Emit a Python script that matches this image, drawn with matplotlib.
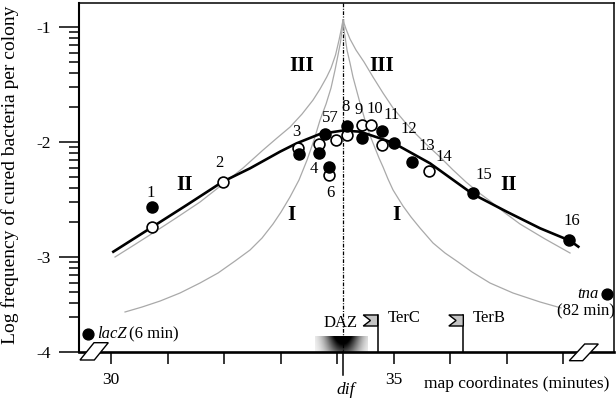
import numpy as np
import matplotlib
matplotlib.use("Agg")
import matplotlib.pyplot as plt
from matplotlib.patches import Polygon
import matplotlib.transforms as mtransforms

plt.rcParams['font.family'] = ['Liberation Serif', 'DejaVu Serif']

# map position (minutes) and log10 frequency of cured bacteria
filled_x = [30.72, 33.33, 33.67, 33.86, 33.785, 34.18, 34.445, 34.79, 35.01, 35.33, 36.40, 38.105]
filled_y = [-2.568, -2.104, -2.098, -2.215, -1.933, -1.861, -1.963, -1.904, -2.006, -2.171, -2.446, -2.852]
open_x = [30.72, 31.975, 33.30, 33.67, 33.86, 33.98, 34.18, 34.434, 34.60, 34.79, 35.624]
open_y = [-2.742, -2.345, -2.050, -2.017, -2.287, -1.983, -1.939, -1.852, -1.852, -2.026, -2.252]

# fitted curve
fit_x = [30.041, 30.720, 31.339, 31.976, 32.458, 32.989, 33.284, 33.696, 34.103, 34.404,
         34.816, 35.005, 35.642, 36.397, 36.999, 37.588, 38.118, 38.265]
fit_y = [-2.954, -2.742, -2.548, -2.345, -2.229, -2.084, -2.011, -1.930, -1.900, -1.910,
         -1.977, -2.011, -2.185, -2.452, -2.606, -2.750, -2.858, -2.910]

# model curves (grey)
outer_l_x = [34.103, 34.077, 34.033, 33.971, 33.891, 33.815, 33.697, 33.573, 33.378, 33.166,
             32.936, 32.688, 32.335, 31.981, 31.574, 31.150, 30.743, 30.407, 30.071]
outer_l_y = [-0.939, -1.009, -1.113, -1.243, -1.357, -1.435, -1.539, -1.635, -1.757, -1.870,
             -1.965, -2.070, -2.226, -2.365, -2.522, -2.661, -2.791, -2.896, -3.000]
inner_l_x = [34.103, 34.086, 34.059, 34.015, 33.962, 33.891, 33.803, 33.697, 33.590, 33.467, 33.325,
             33.166, 33.007, 32.865, 32.671, 32.459, 32.193, 31.893, 31.574, 31.220, 30.867, 30.548, 30.248]
inner_l_y = [-0.939, -1.026, -1.130, -1.243, -1.374, -1.530, -1.670, -1.809, -1.983, -2.157, -2.330,
             -2.478, -2.609, -2.713, -2.835, -2.939, -3.035, -3.139, -3.226, -3.313, -3.383, -3.435, -3.478]
outer_r_x = [34.103, 34.156, 34.227, 34.333, 34.475, 34.634, 34.811, 34.988, 35.182, 35.377,
             35.589, 35.819, 36.049, 36.279, 36.491, 36.703, 36.969, 37.234, 37.676, 38.118]
outer_r_y = [-0.939, -1.017, -1.104, -1.200, -1.304, -1.435, -1.574, -1.704, -1.817, -1.922,
             -2.026, -2.130, -2.243, -2.348, -2.435, -2.513, -2.617, -2.713, -2.843, -2.965]
inner_r_x = [34.103, 34.121, 34.148, 34.174, 34.227, 34.280, 34.342, 34.404, 34.466, 34.528,
             34.599, 34.669, 34.740, 34.811, 34.899, 34.988, 35.076, 35.165, 35.306, 35.465,
             35.695, 35.907, 36.137, 36.385, 36.703, 37.110, 37.588, 37.959]
inner_r_y = [-0.939, -1.026, -1.113, -1.200, -1.313, -1.435, -1.548, -1.661, -1.765, -1.870,
             -1.965, -2.052, -2.139, -2.217, -2.322, -2.417, -2.487, -2.557, -2.652, -2.748,
             -2.878, -2.965, -3.043, -3.130, -3.226, -3.313, -3.391, -3.443]

point_labels = ['1', '2', '3', '4', '57', '6', '8', '9', '10', '11', '12', '13', '14', '15', '16']
label_x = [30.707, 31.915, 33.272, 33.590, 33.873, 33.873, 34.156, 34.374, 34.669, 34.965,
           35.258, 35.584, 35.895, 36.597, 38.159]
label_y = [-2.446, -2.185, -1.910, -2.237, -1.794, -2.446, -1.693, -1.722, -1.716, -1.765,
           -1.890, -2.035, -2.133, -2.287, -2.684]

roman = ['III', 'III', 'II', 'II', 'I', 'I']
roman_x = [33.373, 34.788, 31.309, 37.027, 33.196, 35.053]
roman_y = [-1.339, -1.339, -2.374, -2.374, -2.635, -2.635]

dif = 34.11
terC = 34.717
terB = 36.231
lacZ = (29.588, -3.672)
tna = (38.767, -3.322)

xmin, xmax = 29.434, 38.896
ymin, ymax = -3.826, -0.791

W, H = 616, 403
fig = plt.figure(figsize=(W / 100, H / 100), dpi=100)
ax = fig.add_axes([79 / W, 1 - 352 / H, (614 - 79) / W, 349 / H])

grey = '#a9a9a9'
for cx, cy in [(outer_l_x, outer_l_y), (inner_l_x, inner_l_y), (outer_r_x, outer_r_y), (inner_r_x, inner_r_y)]:
    ax.plot(cx, cy, color=grey, lw=0.9, zorder=2, solid_joinstyle='round')

ax.plot(fit_x, fit_y, color='black', lw=1.9, zorder=3, solid_joinstyle='round')

# dif line
ax.plot([dif, dif], [ymax, ymin], color='black', lw=0.9, ls=(0, (3, 1.2, 0.8, 1.2)), zorder=1)

ax.plot(open_x, open_y, 'o', ms=7.8, mfc='white', mec='black', mew=1.2, zorder=5)
ax.plot(filled_x, filled_y, 'o', ms=7.8, mfc='black', mec='black', mew=1.2, zorder=6)
ax.plot(*lacZ, 'o', ms=7.8, color='black', clip_on=False, zorder=6)
ax.plot(*tna, 'o', ms=7.8, color='black', clip_on=False, zorder=6)

for s, x, y in zip(point_labels, label_x, label_y):
    ax.text(x, y, s, fontsize=12, ha='center', va='center', zorder=7)
for s, x, y in zip(roman, roman_x, roman_y):
    ax.text(x, y, s, fontsize=15.5, fontweight='bold', ha='center', va='center', zorder=7)

# DAZ zone gradient
gx = np.linspace(33.608, 34.545, 120)
gy = np.linspace(0, 1, 30)
GX, GY = np.meshgrid(gx, gy)
alpha = 1.3 * np.exp(-((GX - 34.10) / 0.30) ** 2) * (0.55 + 0.45 * GY)
rgba = np.zeros(GX.shape + (4,))
rgba[..., 3] = np.clip(alpha, 0, 1)
ax.imshow(rgba, extent=[33.608, 34.545, -3.824, -3.693], origin='lower', aspect='auto',
          interpolation='bilinear', zorder=2)
ax.set_xlim(xmin, xmax)
ax.set_ylim(ymin, ymax)
ax.text(34.068, -3.570, 'DAZ', fontsize=12, ha='center', va='center', zorder=7)

# ter sites
fw, ft, fb = 0.256, -3.504, -3.600
for xp, name in [(terC, 'TerC'), (terB, 'TerB')]:
    ax.plot([xp, xp], [ft, ymin], color='black', lw=1.1, zorder=4)
    ax.add_patch(Polygon([(xp, ft), (xp - fw, ft), (xp - fw * 0.5, (ft + fb) / 2), (xp - fw, fb), (xp, fb)],
                         closed=True, fc='#c4c4c4', ec='black', lw=1.0, zorder=4))
    ax.text(xp + 0.175, -3.533, name, fontsize=12, ha='left', va='center', zorder=7)

ax.text(29.747, -3.670, 'lacZ', fontsize=12, style='italic', ha='left', va='center')
ax.text(30.318, -3.670, '(6 min)', fontsize=12, ha='left', va='center')
ax.text(38.619, -3.322, 'tna', fontsize=12, style='italic', ha='right', va='center')
ax.text(38.401, -3.476, '(82 min)', fontsize=12, ha='center', va='center')

# axes styling
ax.spines['left'].set_linewidth(1.5)
ax.spines['bottom'].set_linewidth(1.9)
ax.spines['top'].set_linewidth(1.1)
ax.spines['right'].set_linewidth(1.1)

ax.set_yticks([-1, -2, -3, ymin])
ax.set_yticklabels(['-1', '-2', '-3', '-4'])
minor_y = [d + np.log10(k) for d in (-2, -3) for k in range(2, 10)] + [-4 + np.log10(k) for k in range(3, 10)]
ax.set_yticks(minor_y, minor=True)
ax.tick_params(axis='y', which='major', length=14.4, width=1.1, pad=6, labelsize=12.5)
ax.tick_params(axis='y', which='minor', length=7.5, width=1.1)

ax.set_xticks([30, 35])
ax.set_xticklabels(['30', '35'])
ax.set_xticks([31, 32, 33, 34, 36, 37, 38], minor=True)
ax.tick_params(axis='x', which='both', length=8.6, width=1.1, pad=6, labelsize=12.5)

# dif tick
trans = mtransforms.blended_transform_factory(ax.transData, ax.transAxes)
ax.plot([dif, dif], [0, -23 / 349], color='black', lw=1.1, transform=trans, clip_on=False)

fig.text(346 / W, 1 - 390 / H, 'dif', fontsize=12.5, style='italic', ha='center', va='center')
fig.text(517 / W, 1 - 384 / H, 'map coordinates (minutes)', fontsize=12.5, ha='center', va='center')
fig.text(10 / W, 1 - 175 / H, 'Log frequency of cured bacteria per colony', fontsize=14,
         rotation=90, ha='center', va='center')

# axis break marks
for pts in [[(80, 360), (94.3, 360), (108.3, 342.7), (94, 342.7)],
            [(569.3, 360.7), (582.7, 360.7), (598.3, 344), (584.7, 344)]]:
    fig.patches.append(Polygon([(x / W, 1 - y / H) for x, y in pts], closed=True, fc='white', ec='black',
                               lw=1.0, transform=fig.transFigure, figure=fig, zorder=10))

fig.savefig('out.png', dpi=100)
